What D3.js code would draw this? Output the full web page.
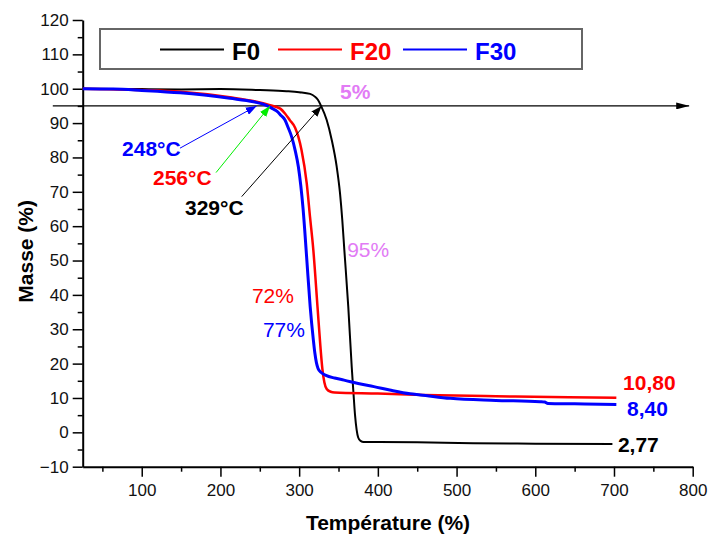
<!DOCTYPE html>
<html>
<head>
<meta charset="utf-8">
<script src="https://cdn.jsdelivr.net/npm/d3@7"></script>
<style>
  body { margin: 0; background: #fff; }
  svg { display: block; font-family: "Liberation Sans", Arial, sans-serif; }
</style>
</head>
<body>
<svg id="chart" width="710" height="536"></svg>
<script>
// tick values
const xTicks = [100, 200, 300, 400, 500, 600, 700, 800];
const xMinorTicks = [50, 150, 250, 350, 450, 550, 650, 750];
const yTicks = [-10, 0, 10, 20, 30, 40, 50, 60, 70, 80, 90, 100, 110, 120];
const yMinorTicks = [-5, 5, 15, 25, 35, 45, 55, 65, 75, 85, 95, 105, 115];

// TGA curves: [temperature, mass %]
const f0Points = [
  [25, 100], [100, 99.9], [150, 99.8], [200, 99.9], [250, 99.6], [284, 99.3], [300, 99.0],
  [314, 98.5], [320, 97.7], [324, 96.7], [327.8, 95], [335, 90.9], [341.4, 85.1], [347.7, 77.3],
  [351.9, 69.6], [354.8, 61.8], [357.4, 53.1], [362.4, 36.6], [366.8, 19], [369, 11.5],
  [371, 5], [373, 0.8], [375, -1.5], [378, -2.5], [382, -2.8], [450, -2.9], [521, -3.2],
  [600, -3.3], [698, -3.4]
];
const f20Points = [
  [25, 100], [100, 99.6], [149, 99.1], [212, 97.5], [246, 96.2], [263, 95.2], [276, 94.2],
  [282, 92.8], [288, 90.9], [295, 88.6], [299, 86], [303, 82.2], [309.6, 72.5], [313.8, 62.7],
  [318, 53.1], [323.3, 36.6], [327, 25], [329.5, 18.5], [332, 14.6], [335, 12.6], [340, 11.8],
  [345, 11.6], [400, 11.3], [458, 10.9], [550, 10.5], [620, 10.3], [703, 10.1]
];
const f30Points = [
  [25, 100], [64, 99.9], [100, 99.5], [149, 98.8], [212, 97.2], [242, 96.2], [259, 95.1],
  [267, 94.1], [272, 93.4], [277, 92.2], [282, 90.9], [286, 88.7], [290.5, 86], [295, 82],
  [299, 77.3], [305, 65], [309.5, 51], [314, 36.6], [318, 27], [320, 23], [322, 20.2],
  [324, 18.6], [328, 17.4], [334, 16.6], [345, 15.8], [357, 15.2], [375, 14.2], [395, 13.3],
  [415, 12.3], [441, 11.2], [454, 10.9], [492, 9.9], [550, 9.3], [606, 8.9], [612, 8.8],
  [616, 8.4], [650, 8.3], [703, 8.1]
];

const seriesNames = ["F0", "F20", "F30"];
const seriesColors = ["#000000", "#ff0000", "#0000ff"];
const seriesWidths = [2, 2.5, 3];
const seriesData = [f0Points, f20Points, f30Points];

// onset annotations: label, arrow tail [T, m], arrow tip [T, m], label anchor [T, m]
const onsetLabels = ["248°C", "256°C", "329°C"];
const onsetColors = ["#0000ff", "#00ee00", "#000000"];
const onsetTextColors = ["#0000ff", "#ff0000", "#000000"];
const onsetTails = [[148.6, 82.7], [194.4, 75.6], [227, 68.6]];
const onsetTips = [[246, 95], [263, 95], [328.6, 95]];
const onsetText = [[75, 80.5], [114.3, 72], [155, 63.2]];

// loss and residue labels: text, [T, m], colour, bold
const notes = [
  ["5%", [352, 97], "#e27bf5", true],
  ["95%", [361, 51.1], "#e27bf5", false],
  ["72%", [240, 37.6], "#ff0000", false],
  ["77%", [254, 27.8], "#0000ff", false],
  ["10,80", [711.6, 12.3], "#ff0000", true],
  ["8,40", [716.6, 4.8], "#0000ff", true],
  ["2,77", [705, -5.8], "#000000", true]
];

const svg = d3.select("#chart");
const x = d3.scaleLinear().domain([25, 800]).range([82.7, 692.7]);
const y = d3.scaleLinear().domain([-10, 120]).range([466.7, 20]);

// arrow markers
const defs = svg.append("defs");
function marker(id, color, len, wid) {
  defs.append("marker")
    .attr("id", id)
    .attr("viewBox", `0 0 ${len} ${wid}`)
    .attr("refX", len).attr("refY", wid / 2)
    .attr("markerWidth", len).attr("markerHeight", wid)
    .attr("markerUnits", "userSpaceOnUse")
    .attr("orient", "auto")
    .append("path")
    .attr("d", `M0,0L${len},${wid / 2}L0,${wid}Z`)
    .attr("fill", color);
}
marker("arrMain", "#000", 13, 7);
onsetColors.forEach((c, i) => marker("arr" + i, c, 11, 8));

// axes
function styleAxis(g, w) {
  g.select(".domain").attr("stroke", "#000").attr("stroke-width", 2);
  g.selectAll(".tick line").attr("stroke", "#000").attr("stroke-width", w);
  g.selectAll(".tick text").attr("fill", "#111").attr("font-size", 17)
    .attr("font-family", "Liberation Sans, Arial, sans-serif");
}
svg.append("g").attr("transform", `translate(0,${y(-10)})`)
  .call(d3.axisBottom(x).tickValues(xMinorTicks).tickSize(5).tickFormat("").tickSizeOuter(0))
  .call(g => { g.select(".domain").remove(); g.selectAll(".tick line").attr("stroke", "#000").attr("stroke-width", 1.5); });
svg.append("g").attr("transform", `translate(${x(25)},0)`)
  .call(d3.axisLeft(y).tickValues(yMinorTicks).tickSize(5).tickFormat("").tickSizeOuter(0))
  .call(g => { g.select(".domain").remove(); g.selectAll(".tick line").attr("stroke", "#000").attr("stroke-width", 1.5); });
svg.append("g").attr("transform", `translate(0,${y(-10)})`)
  .call(d3.axisBottom(x).tickValues(xTicks).tickSize(10).tickPadding(7).tickSizeOuter(0))
  .call(g => styleAxis(g, 1.5));
svg.append("g").attr("transform", `translate(${x(25)},0)`)
  .call(d3.axisLeft(y).tickValues(yTicks).tickSize(10).tickPadding(4).tickSizeOuter(0))
  .call(g => styleAxis(g, 1.5));

// axis titles
svg.append("text")
  .attr("transform", `translate(33,${(y(120) + y(-10)) / 2 + 8}) rotate(-90)`)
  .attr("text-anchor", "middle").attr("font-size", 21).attr("font-weight", "bold")
  .text("Masse (%)");
svg.append("text")
  .attr("x", 388).attr("y", 530)
  .attr("text-anchor", "middle").attr("font-size", 21).attr("font-weight", "bold")
  .text("Température (%)");

// 5 % mass-loss reference line
svg.append("line")
  .attr("x1", x(-13)).attr("x2", x(795.5))
  .attr("y1", y(95)).attr("y2", y(95))
  .attr("stroke", "#000").attr("stroke-width", 1.3)
  .attr("marker-end", "url(#arrMain)");

// curves
const line = d3.line().x(d => x(d[0])).y(d => y(d[1])).curve(d3.curveMonotoneX);
svg.append("g").selectAll("path")
  .data(seriesData)
  .join("path")
  .attr("d", line)
  .attr("fill", "none")
  .attr("stroke", (d, i) => seriesColors[i])
  .attr("stroke-width", (d, i) => seriesWidths[i])
  .attr("stroke-linejoin", "round");

// onset arrows and labels
onsetLabels.forEach((lab, i) => {
  svg.append("line")
    .attr("x1", x(onsetTails[i][0])).attr("y1", y(onsetTails[i][1]))
    .attr("x2", x(onsetTips[i][0])).attr("y2", y(onsetTips[i][1]))
    .attr("stroke", onsetColors[i]).attr("stroke-width", 1)
    .attr("marker-end", `url(#arr${i})`);
  svg.append("text")
    .attr("x", x(onsetText[i][0])).attr("y", y(onsetText[i][1]))
    .attr("font-size", 21).attr("font-weight", "bold")
    .attr("fill", onsetTextColors[i])
    .text(lab);
});

// other notes
svg.append("g").selectAll("text")
  .data(notes)
  .join("text")
  .attr("x", d => x(d[1][0])).attr("y", d => y(d[1][1]))
  .attr("font-size", 21)
  .attr("font-weight", d => d[3] ? "bold" : "normal")
  .attr("fill", d => d[2])
  .text(d => d[0]);

// legend
const legend = svg.append("g");
legend.append("rect")
  .attr("x", 100).attr("y", 29).attr("width", 482).attr("height", 40)
  .attr("fill", "#fff").attr("stroke", "#666").attr("stroke-width", 2);
const legX = [160, 278, 403];
seriesNames.forEach((name, i) => {
  legend.append("line")
    .attr("x1", legX[i]).attr("x2", legX[i] + 64)
    .attr("y1", 49.5).attr("y2", 49.5)
    .attr("stroke", seriesColors[i]).attr("stroke-width", 2);
  legend.append("text")
    .attr("x", legX[i] + 72).attr("y", 60)
    .attr("font-size", 24).attr("font-weight", "bold")
    .attr("fill", seriesColors[i])
    .text(name);
});
</script>
</body>
</html>
